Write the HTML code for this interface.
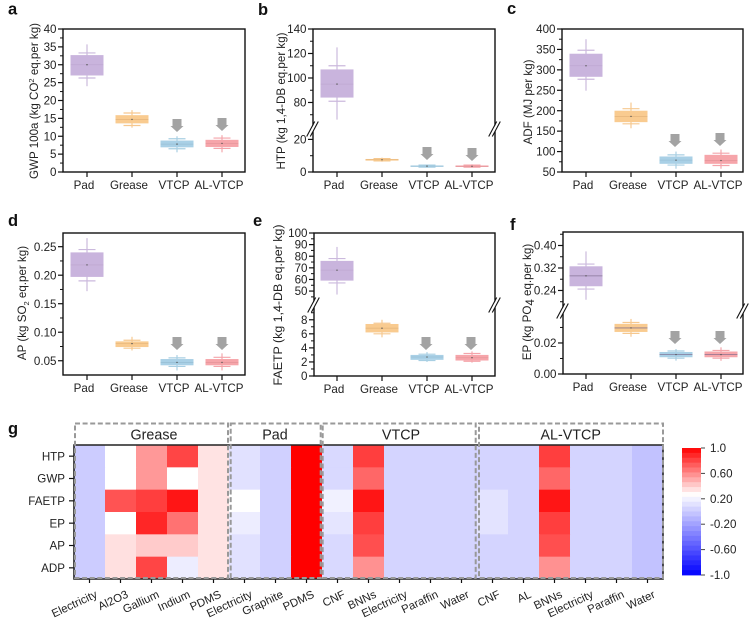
<!DOCTYPE html>
<html lang="en">
<head>
<meta charset="utf-8">
<title>Life cycle impact box plots and correlation heatmap</title>
<style>
html,body{margin:0;padding:0;background:#fff;}
svg{display:block;}
text{font-family:"Liberation Sans",Arial,sans-serif;fill:#222;}
.panel{font-weight:bold;font-size:16.5px;fill:#111;}
.ytitle{font-size:11.6px;text-anchor:middle;}
.group{font-size:14.3px;text-anchor:middle;}
</style>
</head>
<body>
<svg id="chart" xmlns="http://www.w3.org/2000/svg" width="756" height="624" viewBox="0 0 756 624">
<rect width="756" height="624" fill="#fff"/>

<text class="panel" x="8" y="14.5">a</text>
<text class="panel" x="258" y="15">b</text>
<text class="panel" x="507" y="14">c</text>
<text class="panel" x="8" y="226">d</text>
<text class="panel" x="253" y="226">e</text>
<text class="panel" x="510" y="230">f</text>
<text class="panel" x="8" y="434">g</text>

<text class="ytitle" transform="translate(38,101) rotate(-90)">GWP 100a (kg CO<tspan font-size="7.5" dy="-4">2</tspan><tspan dy="4"> eq.per kg)</tspan></text>
<text class="ytitle" transform="translate(285,101) rotate(-90)">HTP (kg 1,4-DB eq.per kg)</text>
<text class="ytitle" transform="translate(532,102) rotate(-90)">ADF (MJ per kg)</text>
<text class="ytitle" transform="translate(26,303) rotate(-90)">AP (kg SO<tspan font-size="7.5" dy="3">2</tspan><tspan dy="-3"> eq.per kg)</tspan></text>
<text class="ytitle" transform="translate(282,305) rotate(-90)" style="font-size:12.4px">FAETP (kg 1,4-DB eq.per kg)</text>
<text class="ytitle" transform="translate(531,302) rotate(-90)">EP (kg PO<tspan font-size="11.6" dy="3">4</tspan><tspan dy="-3"> eq.per kg)</tspan></text>

<g id="plots"></g>
<g id="heat"></g>

<g fill="none" stroke="#999999" stroke-width="2" stroke-dasharray="5 2.6">
<rect x="75" y="423.5" width="153" height="154.5"/>
<rect x="230.7" y="423.5" width="90" height="154.5"/>
<rect x="322.7" y="423.5" width="153" height="154.5"/>
<rect x="479" y="423.5" width="184" height="154.5"/>
</g>
<text class="group" x="154" y="439.5">Grease</text>
<text class="group" x="275" y="439.5">Pad</text>
<text class="group" x="401" y="439.5">VTCP</text>
<text class="group" x="570.7" y="439.5">AL-VTCP</text>
</svg>

<script>
/* ---------- box plot data ---------- */
const categories = ["Pad", "Grease", "VTCP", "AL-VTCP"];

const gwpQ1 = [27, 13.6, 6.9, 7];
const gwpQ3 = [32.7, 15.9, 8.8, 9];
const gwpMedian = [30, 14.7, 7.8, 8];
const gwpWhiskerLow = [26.3, 13, 6.5, 6.6];
const gwpWhiskerHigh = [33.3, 16.5, 9.3, 9.5];
const gwpMin = [24, 12.4, 5.5, 5.5];
const gwpMax = [35.7, 17.3, 10, 10.3];

const htpQ1 = [84, 7, 3.2, 3.1];
const htpQ3 = [107, 8, 4, 4];
const htpMedian = [95, 7.5, 3.6, 3.5];
const htpWhiskerLow = [81, 6.8, 3, 3];
const htpWhiskerHigh = [110, 8.2, 4.2, 4.2];
const htpMin = [66, 6.3, 2.6, 2.6];
const htpMax = [125, 8.8, 4.6, 4.7];

const adfQ1 = [283, 172, 70, 70];
const adfQ3 = [339.5, 200, 88, 92];
const adfMedian = [310, 186, 79, 78];
const adfWhiskerLow = [277, 168, 67, 66];
const adfWhiskerHigh = [348, 205, 92, 96];
const adfMin = [249, 157, 58, 58];
const adfMax = [375, 220, 100, 105];

const apQ1 = [0.197, 0.074, 0.042, 0.042];
const apQ3 = [0.24, 0.084, 0.053, 0.053];
const apMedian = [0.218, 0.08, 0.047, 0.047];
const apWhiskerLow = [0.19, 0.072, 0.04, 0.04];
const apWhiskerHigh = [0.245, 0.086, 0.055, 0.056];
const apMin = [0.172, 0.068, 0.033, 0.033];
const apMax = [0.265, 0.092, 0.06, 0.063];

const faetpQ1 = [59, 6.2, 2.3, 2.2];
const faetpQ3 = [76, 7.4, 3, 3];
const faetpMedian = [68, 6.8, 2.7, 2.6];
const faetpWhiskerLow = [57, 6, 2.2, 2.1];
const faetpWhiskerHigh = [78, 7.5, 3.1, 3.2];
const faetpMin = [47, 5.5, 2, 1.9];
const faetpMax = [88, 8, 3.4, 3.5];

const epQ1 = [0.255, 0.0271, 0.0108, 0.0108];
const epQ3 = [0.326, 0.0323, 0.0142, 0.0145];
const epMedian = [0.292, 0.0297, 0.0125, 0.0125];
const epWhiskerLow = [0.245, 0.0262, 0.0102, 0.0102];
const epWhiskerHigh = [0.334, 0.0332, 0.0148, 0.0152];
const epMin = [0.207, 0.024, 0.0086, 0.0085];
const epMax = [0.379, 0.0355, 0.0161, 0.0172];

const gwpTicks = ["0", "5", "10", "15", "20", "25", "30", "35", "40"];
const htpTicks = ["0", "20", "80", "100", "120", "140"];
const adfTicks = ["50", "100", "150", "200", "250", "300", "350", "400"];
const apTicks = ["0.05", "0.10", "0.15", "0.20", "0.25"];
const faetpTicks = ["0", "2", "4", "6", "8", "50", "60", "70", "80", "90", "100"];
const epTicks = ["0.00", "0.02", "0.24", "0.32", "0.40"];

const gwpMinorTicks = [2.5, 7.5, 12.5, 17.5, 22.5, 27.5, 32.5, 37.5];
const htpMinorTicks = [10, 70, 90, 110, 130];
const adfMinorTicks = [75, 125, 175, 225, 275, 325, 375];
const apMinorTicks = [0.075, 0.125, 0.175, 0.225];
const faetpMinorTicks = [1, 3, 5, 7, 9, 45, 55, 65, 75, 85, 95];
const epMinorTicks = [0.01, 0.03, 0.2, 0.28, 0.36, 0.44];

/* ---------- heatmap data ---------- */
const heatRows = ["HTP", "GWP", "FAETP", "EP", "AP", "ADP"];
const heatColumns = ["Electricity", "Al2O3", "Gallium", "Indium", "PDMS", "Electricity", "Graphite", "PDMS", "CNF", "BNNs", "Electricity", "Paraffin", "Water", "CNF", "AL", "BNNs", "Electricity", "Paraffin", "Water"];
const heatHTP = [0.01, 0.26, 0.56, 0.8, 0.34, 0.11, 0.03, 1, 0.07, 0.82, 0.05, 0.05, 0.05, 0.05, 0.05, 0.82, 0.05, 0.05, -0.04];
const heatGWP = [0.01, 0.26, 0.56, 0.26, 0.34, 0.11, 0.03, 1, 0.07, 0.7, 0.05, 0.05, 0.05, 0.05, 0.05, 0.7, 0.05, 0.05, -0.04];
const heatFAETP = [0.01, 0.76, 0.82, 0.94, 0.34, 0.26, 0.03, 1, 0.19, 0.94, 0.05, 0.05, 0.05, 0.12, 0.05, 0.94, 0.05, 0.05, -0.04];
const heatEP = [0.01, 0.26, 0.89, 0.67, 0.34, 0.17, 0.03, 1, 0.13, 0.82, 0.05, 0.05, 0.05, 0.12, 0.05, 0.82, 0.05, 0.05, -0.04];
const heatAP = [0.01, 0.35, 0.41, 0.41, 0.34, 0.11, 0.03, 1, 0.07, 0.77, 0.05, 0.05, 0.05, 0.05, 0.05, 0.77, 0.05, 0.05, -0.04];
const heatADP = [0.01, 0.35, 0.8, 0.17, 0.34, 0.11, 0.03, 1, 0.07, 0.58, 0.05, 0.05, 0.05, 0.05, 0.05, 0.58, 0.05, 0.05, -0.04];
const colorbarTicks = ["1.0", "0.60", "0.20", "-0.20", "-0.60", "-1.0"];

/* ---------- helpers ---------- */
const NS = "http://www.w3.org/2000/svg";
function make(tag, parent, attrs) {
  const el = document.createElementNS(NS, tag);
  for (const k in attrs) el.setAttribute(k, attrs[k]);
  parent.appendChild(el);
  return el;
}

const boxFill = ["#c9b4dd", "#f9cb90", "#a9d0e6", "#f6a5aa"];
const boxEdge = ["#cbb9dd", "#f6c88f", "#a8cfe3", "#f4a4aa"];
const medianStroke = ["#b79fc9", "#d9a96f", "#8db3c9", "#d98a90"];

function makeScale(segments) {
  return function (v) {
    let seg = segments[0];
    for (const s of segments) if (v >= s.d0 && v <= s.d1) seg = s;
    return seg.y0 + (v - seg.d0) * (seg.y1 - seg.y0) / (seg.d1 - seg.d0);
  };
}

function drawPanel(p) {
  const g = make("g", document.getElementById("plots"), {});
  
  
  const y = makeScale(p.segments);
  const xAt = function (i) { return p.x0 + i * 45; };

  categories.forEach(function (cat, i) {
    const x = xAt(i);
    const c = boxFill[i], e = boxEdge[i];
    const spine = make("line", g, { x1: x, x2: x, y1: y(p.max[i]), y2: y(p.min[i]), stroke: e, "stroke-width": 1.8, opacity: 0.65 });
    
    
    const capHigh = make("line", g, { x1: x - 8.5, x2: x + 8.5, y1: y(p.wh[i]), y2: y(p.wh[i]), stroke: e, "stroke-width": 1.2 });
    
    
    const capLow = make("line", g, { x1: x - 8.5, x2: x + 8.5, y1: y(p.wl[i]), y2: y(p.wl[i]), stroke: e, "stroke-width": 1.2 });
    
    
    const box = make("rect", g, { x: x - 16.5, width: 33, y: y(p.q3[i]), height: Math.max(1.4, y(p.q1[i]) - y(p.q3[i])), fill: c });
    
    
    const med = make("line", g, { x1: x - 16.5, x2: x + 16.5, y1: y(p.med[i]), y2: y(p.med[i]), stroke: p.darkMedian ? "#7d6a8c" : medianStroke[i], "stroke-width": 0.8, opacity: p.darkMedian ? 0.85 : 0.55 });
    
    
    const dot = make("circle", g, { cx: x, cy: y(p.med[i]), r: 0.7, fill: "#555" });
    
    

    const tick = make("line", g, { x1: x, x2: x, y1: p.bottom, y2: p.bottom + 5, stroke: "#111", "stroke-width": 1.2 });
    
    
    const lab = make("text", g, { x: x - 3, y: p.bottom + 17, "text-anchor": "middle", "font-size": 11.6 });
    lab.textContent = cat;
    
    

    if (i >= 2) {
      const tip = p.arrows[i - 2];
      const ax = x + (p.arrowDx || 0);
      const a = make("polygon", g, { points: [ax - 4.5, tip - 13, ax + 4.5, tip - 13, ax + 4.5, tip - 6, ax + 6.5, tip - 6, ax, tip, ax - 6.5, tip - 6, ax - 4.5, tip - 6].join(" "), fill: "#a3a3a3" });
      
      
    }
  });

  p.minor.forEach(function (v, i) {
    const t = make("line", g, { x1: p.left - 3, x2: p.left, y1: y(v), y2: y(v), stroke: "#111", "stroke-width": 1 });
    
    
  });
  p.ticks.forEach(function (label, i) {
    const v = parseFloat(label);
    const t = make("line", g, { x1: p.left - 5, x2: p.left, y1: y(v), y2: y(v), stroke: "#111", "stroke-width": 1.2 });
    
    
    const lab = make("text", g, { x: p.left - 6.5, y: y(v) + 4.1, "text-anchor": "end", "font-size": 11.6 });
    lab.textContent = label;
    
    
  });

  const frame = make("rect", g, { x: p.left, y: p.top, width: p.right - p.left, height: p.bottom - p.top, fill: "none", stroke: "#111", "stroke-width": 1.4 });
  
  

  if (p.breakY) {
    [p.left, p.right].forEach(function (bx, k) {
      const gap = make("polygon", g, { points: [bx - 5, p.breakY + 5, bx - 3, p.breakY + 8, bx + 5, p.breakY - 5, bx + 3, p.breakY - 8].join(" "), fill: "#fff" });
      
      
      [-1.8, 1.8].forEach(function (d, n) {
        const m = make("line", g, { x1: bx - 4.5 + d, x2: bx + 3.5 + d, y1: p.breakY + 7.5, y2: p.breakY - 7.5, stroke: "#111", "stroke-width": 1.1 });
        
        
      });
    });
  }
}

const panels = [
  { id: "gwp", left: 63, right: 245, top: 29, bottom: 172, x0: 87, segments: [{ d0: 0, d1: 40, y0: 172, y1: 29 }], q1: gwpQ1, q3: gwpQ3, med: gwpMedian, wl: gwpWhiskerLow, wh: gwpWhiskerHigh, min: gwpMin, max: gwpMax, ticks: gwpTicks, minor: gwpMinorTicks, arrows: [132, 131] },
  { id: "htp", left: 313, right: 495, top: 29, bottom: 172, x0: 337, breakY: 129, segments: [{ d0: 0, d1: 27, y0: 172, y1: 128 }, { d0: 59, d1: 140, y0: 128.2, y1: 29 }], q1: htpQ1, q3: htpQ3, med: htpMedian, wl: htpWhiskerLow, wh: htpWhiskerHigh, min: htpMin, max: htpMax, ticks: htpTicks, minor: htpMinorTicks, arrows: [160, 161] },
  { id: "adf", left: 562, right: 743, top: 29, bottom: 172, x0: 586, arrowDx: -1, segments: [{ d0: 50, d1: 400, y0: 172, y1: 29 }], q1: adfQ1, q3: adfQ3, med: adfMedian, wl: adfWhiskerLow, wh: adfWhiskerHigh, min: adfMin, max: adfMax, ticks: adfTicks, minor: adfMinorTicks, arrows: [147, 146] },
  { id: "ap", left: 63, right: 245, top: 233, bottom: 375, x0: 87, segments: [{ d0: 0.025, d1: 0.274, y0: 375, y1: 233 }], q1: apQ1, q3: apQ3, med: apMedian, wl: apWhiskerLow, wh: apWhiskerHigh, min: apMin, max: apMax, ticks: apTicks, minor: apMinorTicks, arrows: [350, 350] },
  { id: "faetp", left: 314, right: 495, top: 233, bottom: 376, x0: 337, arrowDx: -1, breakY: 305, segments: [{ d0: 0, d1: 10.1, y0: 376, y1: 305 }, { d0: 38, d1: 100, y0: 305, y1: 233 }], q1: faetpQ1, q3: faetpQ3, med: faetpMedian, wl: faetpWhiskerLow, wh: faetpWhiskerHigh, min: faetpMin, max: faetpMax, ticks: faetpTicks, minor: faetpMinorTicks, arrows: [350, 350] },
  { id: "ep", left: 563, right: 743, top: 232, bottom: 374, x0: 586, arrowDx: -1, breakY: 311, segments: [{ d0: 0, d1: 0.0406, y0: 374, y1: 311 }, { d0: 0.167, d1: 0.448, y0: 311, y1: 232 }], q1: epQ1, q3: epQ3, med: epMedian, wl: epWhiskerLow, wh: epWhiskerHigh, min: epMin, max: epMax, ticks: epTicks, minor: epMinorTicks, arrows: [344, 344], darkMedian: true }
];
panels.forEach(drawPanel);

/* ---------- heatmap ---------- */
function colorFor(v) {
  const white = 0.26;
  let t, c;
  if (v >= white) {
    t = Math.min(1, (v - white) / (1 - white));
    c = Math.round(255 * (1 - t));
    return "rgb(255," + c + "," + c + ")";
  }
  t = Math.min(1, (white - v) / (1 + white));
  c = Math.round(255 * (1 - t));
  return "rgb(" + c + "," + c + ",255)";
}

(function drawHeatmap() {
  const g = document.getElementById("heat");
  const left = 74, right = 663, top = 445, bottom = 579;
  const matrix = [heatHTP, heatGWP, heatFAETP, heatEP, heatAP, heatADP];
  const cw = (right - left) / heatColumns.length;
  const ch = (bottom - top) / heatRows.length;

  matrix.forEach(function (row, r) {
    row.forEach(function (v, c) {
      const cell = make("rect", g, { x: left + c * cw, y: top + r * ch, width: cw + 0.4, height: ch + 0.4, fill: colorFor(v) });
      
      
    });
  });

  heatRows.forEach(function (name, r) {
    const cy = top + (r + 0.5) * ch;
    const t = make("line", g, { x1: left - 5, x2: left, y1: cy, y2: cy, stroke: "#111", "stroke-width": 1.2 });
    
    
    const lab = make("text", g, { x: left - 9, y: cy + 4.1, "text-anchor": "end", "font-size": 11.6 });
    lab.textContent = name;
    
    
  });

  heatColumns.forEach(function (name, c) {
    const cx = left + (c + 0.5) * cw;
    const t = make("line", g, { x1: cx, x2: cx, y1: bottom, y2: bottom + 4, stroke: "#111", "stroke-width": 1.2 });
    
    
    const ex = cx + 8.5, ey = 597;
    const lab = make("text", g, { x: ex, y: ey, "text-anchor": "end", "font-size": 11.4, transform: "rotate(-25 " + ex + " " + ey + ")" });
    lab.textContent = name;
    
    
  });

  const frame = make("path", g, { d: "M" + left + " " + top + "H" + right + "V" + bottom + "H" + left + "Z", fill: "none", stroke: "#222", "stroke-width": 1.6 });
  
  

  /* colour bar */
  const cbLeft = 682, cbRight = 701, cbTop = 448, cbBottom = 575;
  const bands = 26;
  for (let i = 0; i < bands; i++) {
    const v = 1 - (i + 0.5) * 2 / bands;
    const band = make("rect", g, { x: cbLeft, width: cbRight - cbLeft, y: cbTop + i * (cbBottom - cbTop) / bands, height: (cbBottom - cbTop) / bands + 0.4, fill: colorFor(v) });
    
    
  }
  colorbarTicks.forEach(function (label, i) {
    const v = parseFloat(label);
    const ty = cbTop + (1 - v) / 2 * (cbBottom - cbTop);
    const t = make("line", g, { x1: cbRight, x2: cbRight + 4, y1: ty, y2: ty, stroke: "#444", "stroke-width": 1 });
    
    
    const lab = make("text", g, { x: 710, y: ty + 4, "font-size": 11.6 });
    lab.textContent = label;
    
    
  });
})();
</script>
</body>
</html>
